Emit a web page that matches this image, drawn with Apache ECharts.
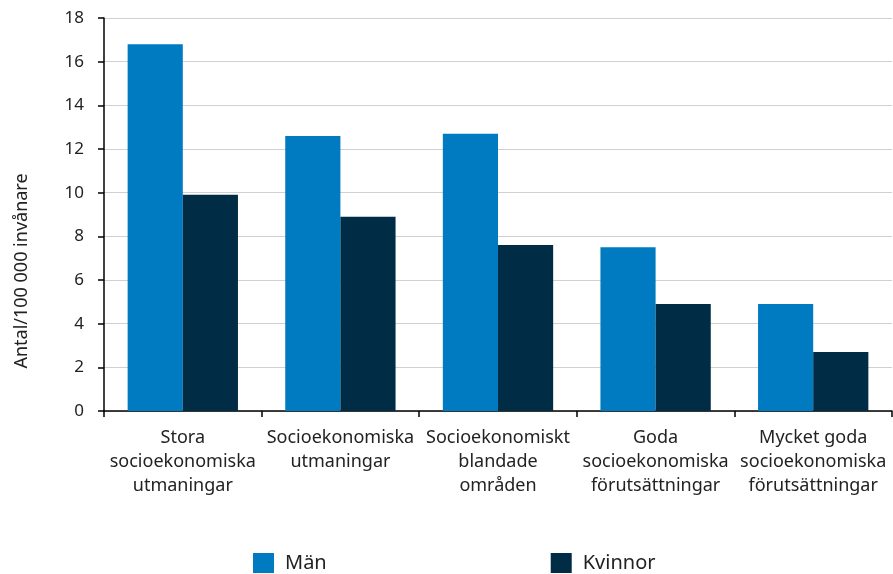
<!DOCTYPE html>
<html>
<head>
<meta charset="utf-8">
<script src="https://cdn.jsdelivr.net/npm/echarts@6/dist/echarts.min.js"></script>
<style>
html,body{margin:0;padding:0;background:#fff;}
#chart{width:893px;height:574px;}
</style>
</head>
<body>
<div id="chart"></div>
<script>
var categories = [
  "Stora\nsocioekonomiska\nutmaningar",
  "Socioekonomiska\nutmaningar",
  "Socioekonomiskt\nblandade\nområden",
  "Goda\nsocioekonomiska\nförutsättningar",
  "Mycket goda\nsocioekonomiska\nförutsättningar"
];
var manValues = [16.8, 12.6, 12.7, 7.5, 4.9];
var kvinnorValues = [9.9, 8.9, 7.6, 4.9, 2.7];
var seriesNames = ["Män", "Kvinnor"];
var yTitle = "Antal/100 000 invånare";

var FONT = "Noto Sans";
var chart = echarts.init(document.getElementById('chart'));
chart.setOption({
  animation: false,
  textStyle: {fontFamily: FONT},
  grid: {left: 104, right: 1, top: 18, bottom: 163, containLabel: false, outerBoundsMode: 'none'},
  legend: {
    data: seriesNames,
    top: 548,
    left: 248,
    itemWidth: 21,
    itemHeight: 20,
    itemGap: 224,
    icon: 'rect',
    textStyle: {fontSize: 20, color: '#222', fontFamily: FONT, padding: [0, 0, 0, 6]}
  },
  graphic: [{
    type: 'text',
    x: 22, y: 271,
    rotation: Math.PI / 2,
    style: {text: yTitle, fontSize: 18, fontFamily: FONT, fill: '#222',
            textAlign: 'center', textVerticalAlign: 'middle'}
  }],
  xAxis: {
    type: 'category',
    data: categories,
    axisLine: {lineStyle: {color: '#000', width: 1.5}},
    axisTick: {show: true, alignWithLabel: false, length: 6, lineStyle: {color: '#000', width: 1.5}},
    axisLabel: {fontSize: 18, color: '#222', lineHeight: 24, margin: 15, interval: 0, fontFamily: FONT}
  },
  yAxis: {
    type: 'value',
    min: 0, max: 18, interval: 2,
    axisLine: {show: true, lineStyle: {color: '#000', width: 1.5}},
    axisTick: {show: true, length: 6, lineStyle: {color: '#000', width: 1.5}},
    axisLabel: {fontSize: 17, color: '#222', margin: 20, fontFamily: FONT},
    splitLine: {lineStyle: {color: '#d0d0d0', width: 1}}
  },
  series: [
    {name: seriesNames[0], type: 'bar', data: manValues, barGap: '0%', barCategoryGap: '30%',
     itemStyle: {color: '#007ac0'}},
    {name: seriesNames[1], type: 'bar', data: kvinnorValues, barGap: '0%', barCategoryGap: '30%',
     itemStyle: {color: '#002c45'}}
  ]
});
</script>
</body>
</html>
